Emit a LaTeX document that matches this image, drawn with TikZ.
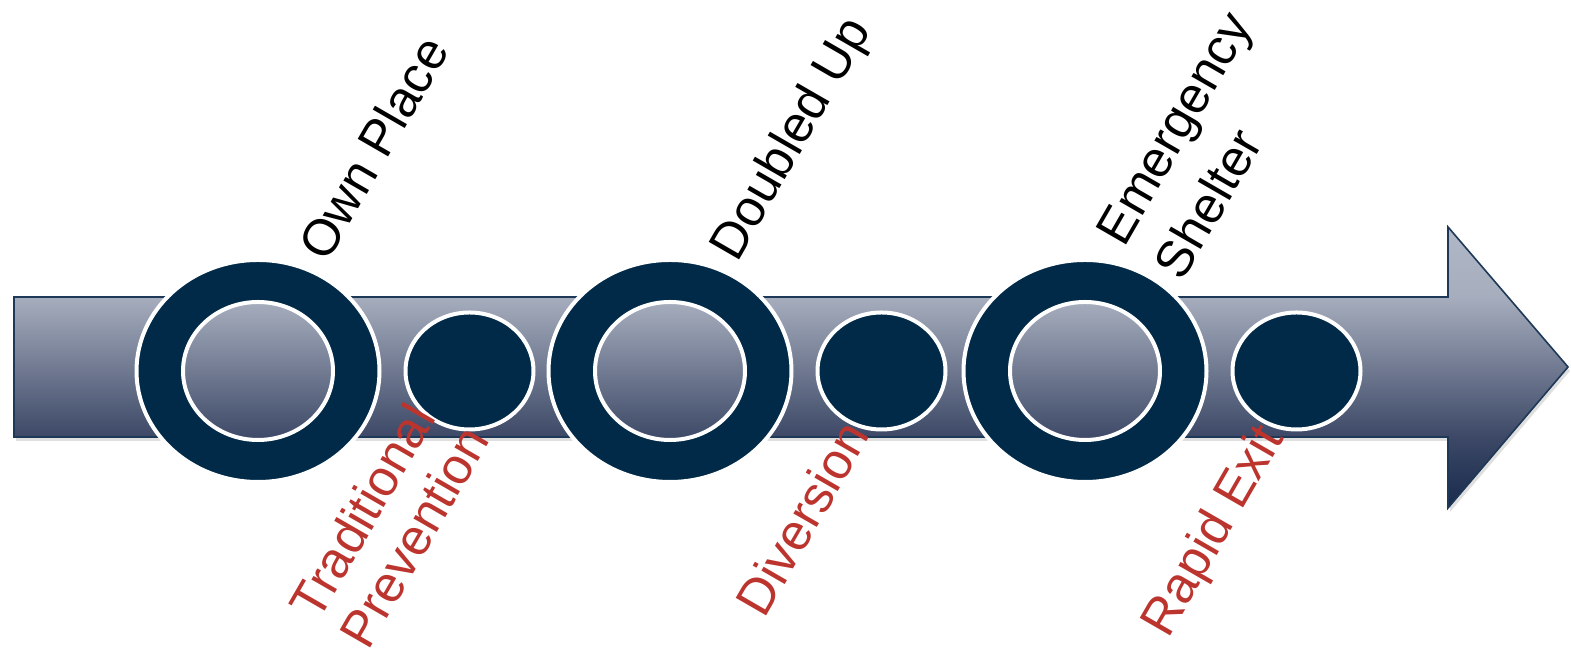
\documentclass[tikz,border=0pt]{standalone}
\usepackage{fontspec}
\setmainfont{Liberation Sans}
\usepackage{tikz}
\usetikzlibrary{positioning}
\usetikzlibrary{shapes.geometric}
\usetikzlibrary{shadows}

\definecolor{navy}{RGB}{1,42,72}
\definecolor{steeltop}{RGB}{176,183,198}
\definecolor{steelbody}{RGB}{166,173,189}
\definecolor{steellow}{RGB}{60,72,102}
\definecolor{steelbottom}{RGB}{24,42,76}
\definecolor{steeledge}{RGB}{30,56,88}
\definecolor{progred}{RGB}{188,52,46}

% arrow gradient: body light to dark, head running on to navy
\pgfdeclareverticalshading{arrowshade}{100bp}{
  color(0bp)=(steelbottom); color(25bp)=(steelbottom);
  color(37.6bp)=(steellow); color(62.5bp)=(steelbody);
  color(75bp)=(steeltop); color(100bp)=(steeltop)}

\begin{document}
\begin{tikzpicture}[x=0.5pt,y=0.5pt,
  ring/.style={ellipse,fill=navy,draw=white,line width=2pt,inner sep=0pt,
    minimum width=121.5pt,minimum height=111pt},
  hole/.style={ellipse,draw=white,line width=2pt,inner sep=0pt,
    top color=steelbody,bottom color=steellow,
    minimum width=75pt,minimum height=69pt},
  dot/.style={ellipse,fill=navy,draw=white,line width=2pt,inner sep=0pt,
    minimum width=64pt,minimum height=58.5pt},
  stage label/.style={rotate=60,align=left,inner sep=0pt,
    font=\fontsize{25.5}{29}\selectfont},
  program label/.style={stage label,text=progred}]

  \useasboundingbox (0,0) rectangle (1571,656);

  % the arrow
  \path[draw=steeledge,line width=0.8pt,shading=arrowshade,
    drop shadow={shadow xshift=1pt,shadow yshift=-2pt,opacity=0.25}]
    (14,219) -- (14,359) -- (1448,359) -- (1448,429) -- (1568,289)
    -- (1448,148) -- (1448,219) -- cycle;

  \node[ring] (ring1) at (258,285) {};
  \node[ring] (ring2) at (670,285) {};
  \node[ring] (ring3) at (1085,285) {};

  \node[hole] (hole1) at (ring1) {};
  \node[hole] (hole2) at (ring2) {};
  \node[hole] (hole3) at (ring3) {};

  \node[dot] (dot1) [right=11pt of ring1] {};
  \node[dot] (dot2) [right=11pt of ring2] {};
  \node[dot] (dot3) [right=11pt of ring3] {};

  \node[stage label] (own) at (373,508) {Own Place};
  \node[stage label] (doubled) at (793,516) {Doubled Up};
  \node[stage label] (shelter) at (1203,511) {Emergency\\[5pt]Shelter};

  \node[program label] (prevention) at (389,134) {Traditional\\Prevention};
  \node[program label] (diversion) at (802,138) {Diversion};
  \node[program label] (exit) at (1215,124) {Rapid Exit};

\end{tikzpicture}
\end{document}
